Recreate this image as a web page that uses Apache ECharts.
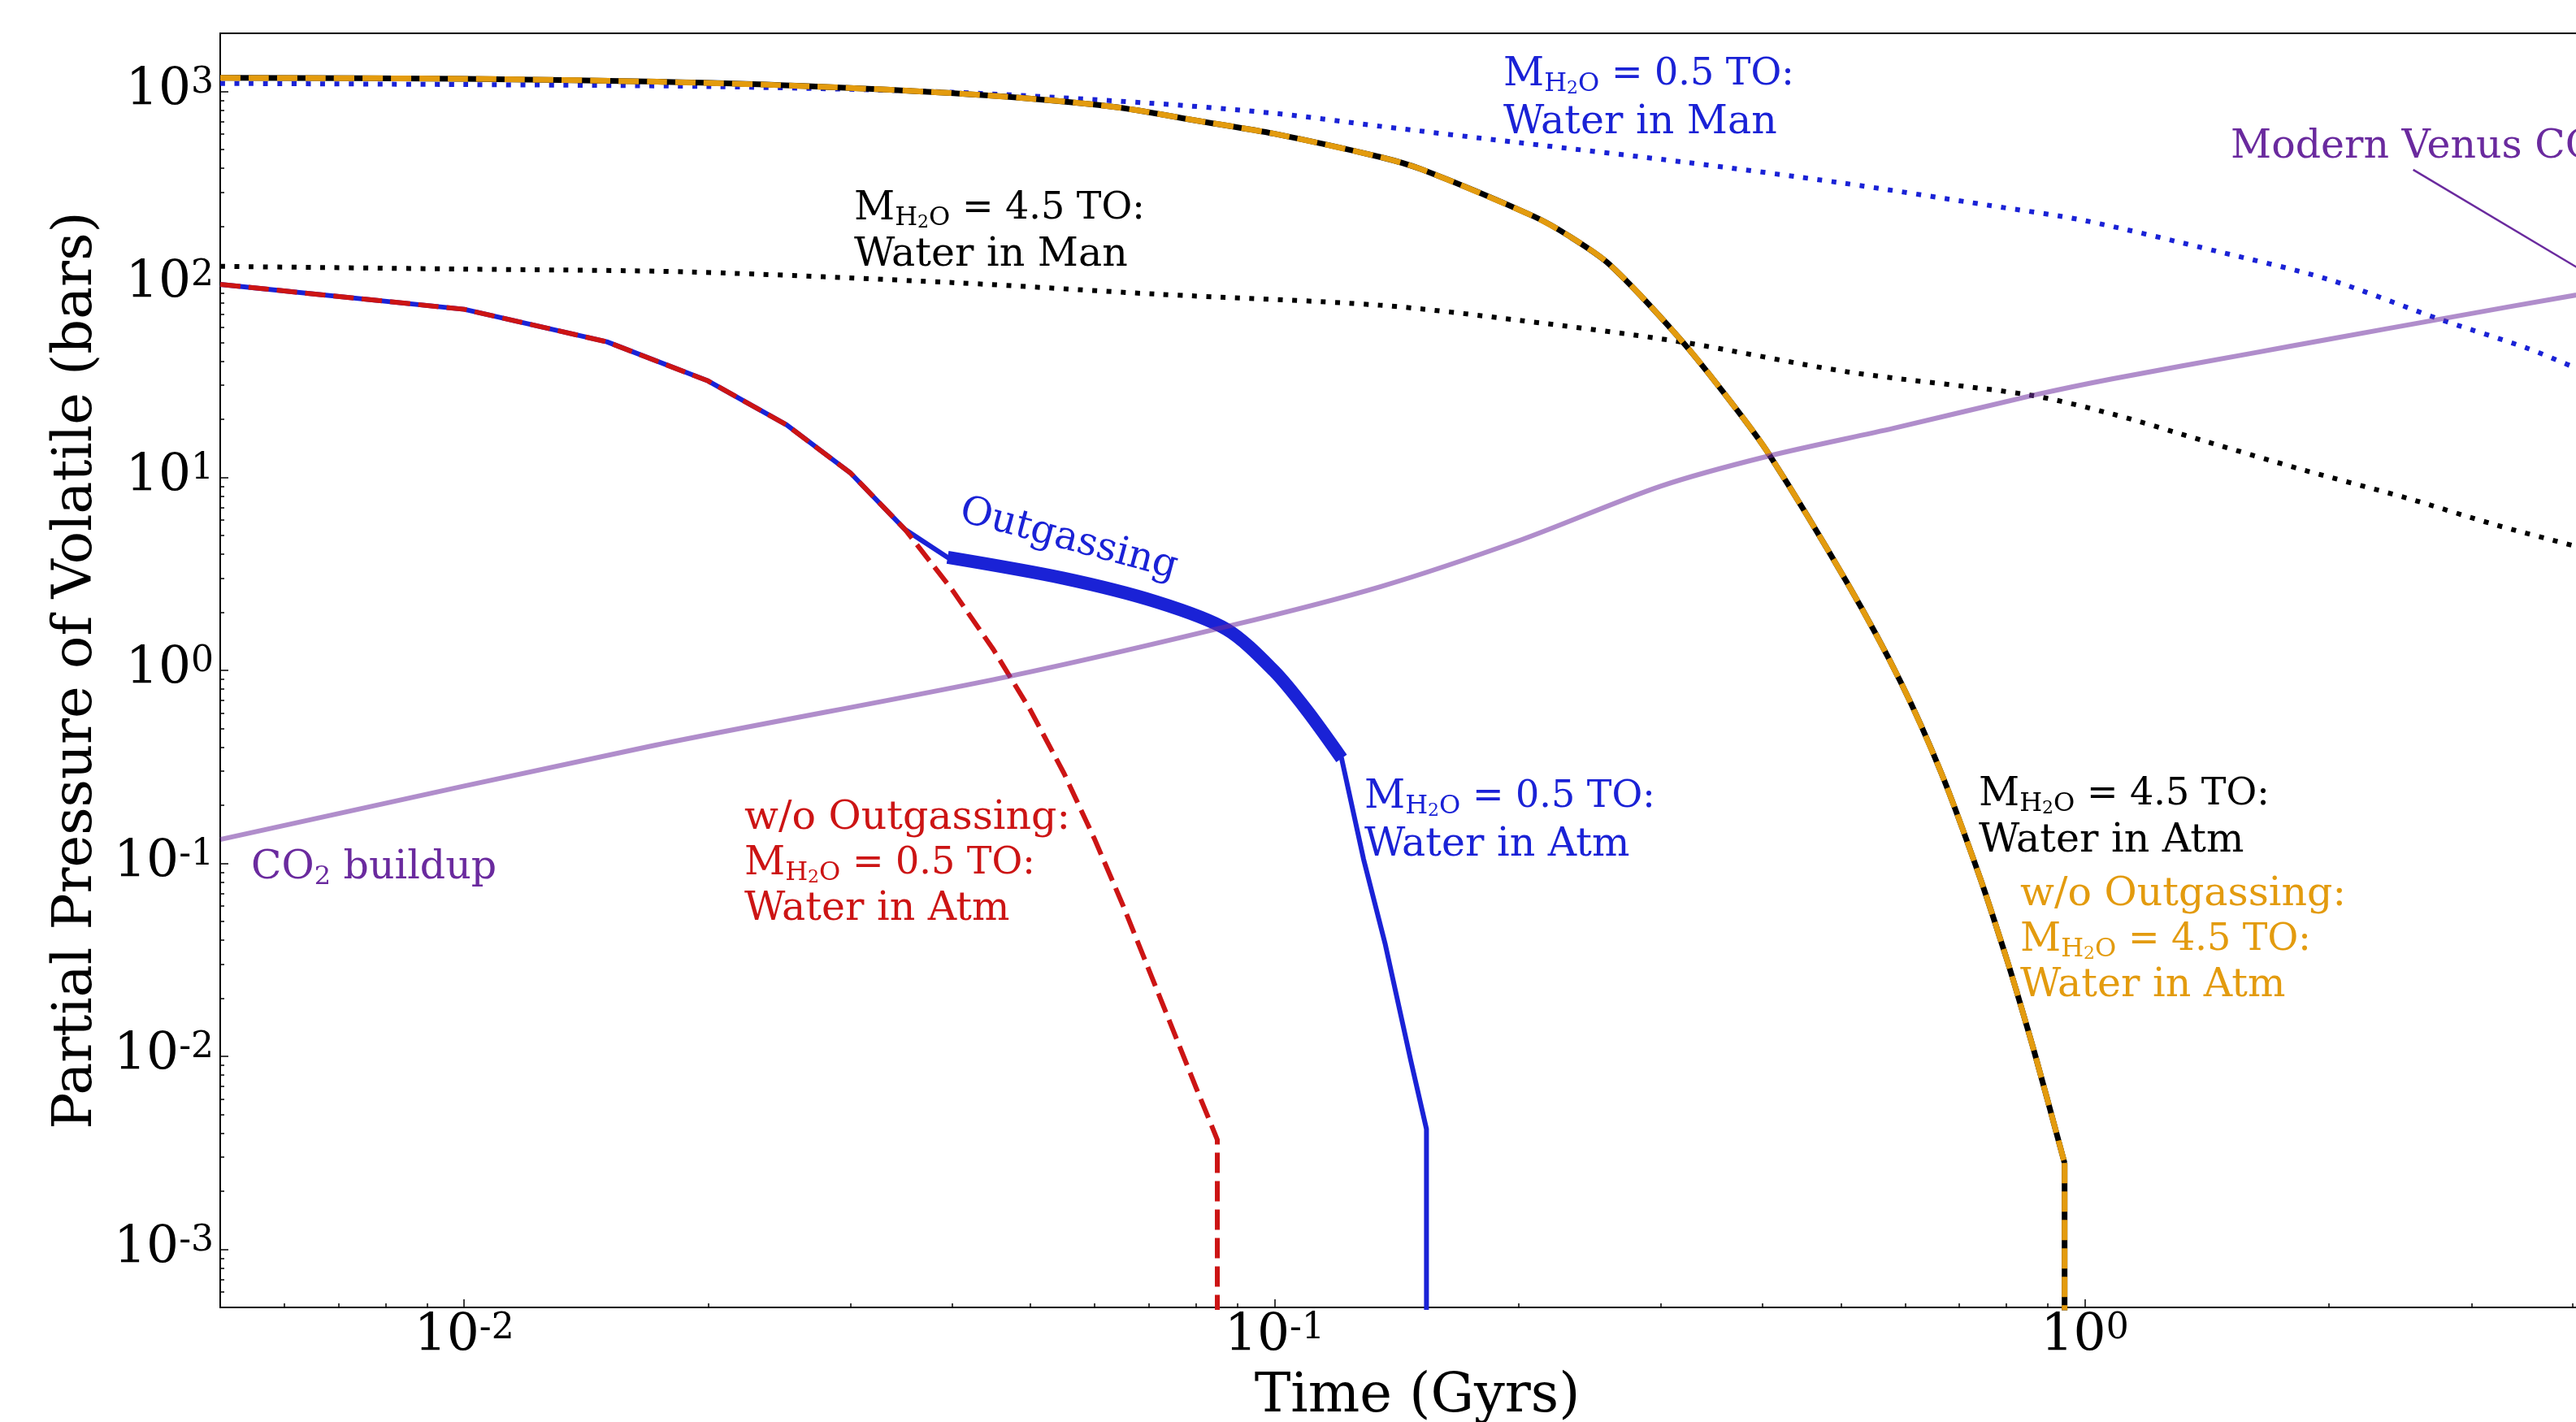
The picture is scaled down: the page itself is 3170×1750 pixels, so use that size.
<!DOCTYPE html>
<html>
<head>
<meta charset="utf-8">
<script src="https://cdn.jsdelivr.net/npm/echarts/dist/echarts.min.js"></script>
<style>
html,body{margin:0;padding:0;background:#fff;}
#chart{width:3170px;height:1750px;}
</style>
</head>
<body>
<div id="chart"></div>
<script>
// ---------------- data (time in Gyr, pressure in bar) ----------------
const X_MAJOR = [0.01, 0.1, 1];
const X_MINOR = [0.006,0.007,0.008,0.009,0.02,0.03,0.04,0.05,0.06,0.07,0.08,0.09,0.2,0.3,0.4,0.5,0.6,0.7,0.8,0.9,2,3,4];
const Y_MAJOR = [0.001, 0.01, 0.1, 1, 10, 100, 1000];
const Y_MINOR = [0.0006,0.0007,0.0008,0.0009,0.002,0.003,0.004,0.005,0.006,0.007,0.008,0.009,
                 0.02,0.03,0.04,0.05,0.06,0.07,0.08,0.09,0.2,0.3,0.4,0.5,0.6,0.7,0.8,0.9,
                 2,3,4,5,6,7,8,9,20,30,40,50,60,70,80,90,200,300,400,500,600,700,800,900];

// M_H2O = 0.5 TO : water in mantle (blue dotted)
const man05 = [[0.005,1100],[0.01,1085],[0.02,1060],[0.04,990],[0.07,870],[0.1,770],[0.135,660],
               [0.2,543],[0.322,429],[0.5,336],[0.765,256],[1.0,214],[1.46,148],[2.0,106],
               [2.74,66],[3.5,47],[4.03,37],[4.5,31]];
// M_H2O = 4.5 TO : water in mantle (black dotted)
const man45 = [[0.005,124],[0.01,120],[0.019,116],[0.0404,102],[0.0716,89],[0.135,78],[0.2014,65],
               [0.316,50.5],[0.51,35.2],[0.855,26.7],[1.081,21.3],[1.4,15.5],[1.85,11],[2.5,7.8],
               [3.2,5.7],[4.03,4.4],[4.5,3.9]];
// M_H2O = 4.5 TO : water in atmosphere (with and without outgassing coincide)
const atm45 = [[0.005,1175],[0.01,1163],[0.0173,1122],[0.0275,1058],[0.044,955],[0.063,834],
               [0.0816,697],[0.1,603],[0.135,457],[0.152,394],[0.2085,226],[0.23,180],[0.259,127],
               [0.316,52.6],[0.366,24.5],[0.407,13.3],[0.51,2.8],[0.592,0.877],[0.665,0.294],
               [0.743,0.0834],[0.8,0.0324],[0.824,0.0216],[0.867,0.0104],[0.944,0.0028]];
const atm45Drop = [[0.944,0.0028],[0.944,0.0001]];
// M_H2O = 0.5 TO : water in atmosphere
const atm05Early = [[0.005,100],[0.01,74.3],[0.015,50.4],[0.02,31.6],[0.025,18.7],[0.03,10.5],[0.035,5.37]];
const outgas05   = [[0.0395,3.85],[0.0549,3.0],[0.0716,2.26],[0.0873,1.63],[0.0998,0.996],[0.1094,0.628],[0.121,0.35]];
const atm05Late  = [[0.1288,0.105],[0.137,0.038],[0.1473,0.0095],[0.154,0.0042],[0.154,0.0001]];
// w/o outgassing, M_H2O = 0.5 TO
const noOut05 = [[0.04,2.62],[0.045,1.28],[0.05,0.62],[0.055,0.292],[0.06,0.133],[0.065,0.0607],
                 [0.07,0.028],[0.075,0.0136],[0.08,0.0069],[0.085,0.0037],[0.085,0.0001]];
// CO2 buildup
const co2 = [[0.005,0.133],[0.0169,0.403],[0.0468,0.927],[0.0885,1.71],[0.1353,2.72],[0.2014,4.74],
             [0.2995,9.0],[0.407,12.9],[0.5816,18.0],[0.866,26.7],[1.081,32.4],[1.6,43.8],[2.0,52],
             [2.74,66],[4.03,88],[4.5,94]];
// pointer from "Modern Venus CO2" label to modern value
const venusPointer = [[2.542,393],[4.5,94]];

// ---------------- styles ----------------
const F = 'DejaVu Serif';
const BLUE = '#1a22d6', RED = '#cc1414', ORANGE = '#e39b0e', BLACK = '#000000';
const PURPLE_TXT = '#6a2a9e', PURPLE_LINE = 'rgba(112,48,160,0.55)';
const DOT = [6, 11.6], DASH = [25, 10];

function line(data, color, width, dash, smooth) {
  return {
    type: 'line', data: data, symbol: 'none', silent: true, clip: true, animation: false,
    xAxisIndex: 0, yAxisIndex: 0, smooth: smooth || false,
    lineStyle: { color: color, width: width, type: dash || 'solid', cap: 'butt', join: 'round' }
  };
}
function powLabel(v) {
  const e = Math.round(Math.log10(v));
  return '{b|10}{s|' + e + '}';
}
const tickRich = {
  b: { fontFamily: F, fontSize: 63, lineHeight: 64, color: '#000' },
  s: { fontFamily: F, fontSize: 44, lineHeight: 29, verticalAlign: 'top', color: '#000' }
};
function annRich(color) {
  return {
    n:  { fontFamily: F, fontSize: 49, lineHeight: 56, fill: color },
    e:  { fontFamily: F, fontSize: 46, lineHeight: 56, fill: color },
    s1: { fontFamily: F, fontSize: 32, lineHeight: 30, verticalAlign: 'bottom', fill: color },
    s2: { fontFamily: F, fontSize: 22, lineHeight: 14, verticalAlign: 'bottom', fill: color }
  };
}
function mh2o(v) { return '{n|M}{s1|H}{s2|2}{s1|O}{e| = ' + v + ' TO:}'; }

const annotations = [
  { x: 1850, y: 92,  t: mh2o('0.5'), c: BLUE },
  { x: 1850, y: 151, t: '{n|Water in Man}', c: BLUE },
  { x: 1051, y: 257, t: mh2o('4.5'), c: BLACK },
  { x: 1051, y: 314, t: '{n|Water in Man}', c: BLACK },
  { x: 2745, y: 181, t: '{n|Modern Venus CO}{s1|2}', c: PURPLE_TXT },
  { x: 916,  y: 1007, t: '{n|w/o Outgassing:}', c: RED },
  { x: 916,  y: 1063, t: mh2o('0.5'), c: RED },
  { x: 916,  y: 1119, t: '{n|Water in Atm}', c: RED },
  { x: 309,  y: 1068, t: '{n|CO}{s1|2}{n| buildup}', c: PURPLE_TXT },
  { x: 1679, y: 981,  t: mh2o('0.5'), c: BLUE },
  { x: 1679, y: 1040, t: '{n|Water in Atm}', c: BLUE },
  { x: 2435, y: 978,  t: mh2o('4.5'), c: BLACK },
  { x: 2435, y: 1035, t: '{n|Water in Atm}', c: BLACK },
  { x: 2486, y: 1101, t: '{n|w/o Outgassing:}', c: ORANGE },
  { x: 2486, y: 1157, t: mh2o('4.5'), c: ORANGE },
  { x: 2486, y: 1213, t: '{n|Water in Atm}', c: ORANGE }
];
const graphics = annotations.map(a => ({
  type: 'text', x: a.x, y: a.y, z: 100, silent: true,
  style: { text: a.t, rich: annRich(a.c), fill: a.c, fontFamily: F, fontSize: 49,
           align: 'left', verticalAlign: 'middle' }
}));
graphics.push({
  type: 'text', x: 1315, y: 664, rotation: -15 * Math.PI / 180, z: 100, silent: true,
  style: { text: 'Outgassing', fill: BLUE, fontFamily: F, fontSize: 48, align: 'center', verticalAlign: 'middle' }
});

const axisLineStyle = { color: '#000', width: 2 };
const tickLine = { color: '#000', width: 1.5 };

const option = {
  animation: false,
  backgroundColor: '#ffffff',
  grid: { left: 271, right: -47, top: 41, bottom: 141, show: true, borderColor: '#000', borderWidth: 2,
          containLabel: false, outerBoundsMode: 'none' },
  xAxis: [
    { type: 'log', logBase: 10, min: 0.005, max: 4.5, position: 'bottom',
      axisLine: { show: true, lineStyle: axisLineStyle },
      axisTick: { show: true, inside: true, length: 10, lineStyle: tickLine, customValues: X_MAJOR },
      axisLabel: { show: true, customValues: X_MAJOR, formatter: powLabel, rich: tickRich, margin: 5 },
      splitLine: { show: false }, minorTick: { show: false },
      name: 'Time (Gyrs)', nameLocation: 'middle', nameGap: 77,
      nameTextStyle: { fontFamily: F, fontSize: 67, color: '#000' } },
    { type: 'log', logBase: 10, min: 0.005, max: 4.5, position: 'bottom',
      axisLine: { show: false }, axisLabel: { show: false }, splitLine: { show: false },
      axisTick: { show: true, inside: true, length: 5, lineStyle: tickLine, customValues: X_MINOR } }
  ],
  yAxis: [
    { type: 'log', logBase: 10, min: 0.0005, max: 2000, position: 'left',
      axisLine: { show: true, lineStyle: axisLineStyle },
      axisTick: { show: true, inside: true, length: 10, lineStyle: tickLine, customValues: Y_MAJOR },
      axisLabel: { show: true, customValues: Y_MAJOR, formatter: powLabel, rich: tickRich, margin: 8 },
      splitLine: { show: false }, minorTick: { show: false },
      name: 'Partial Pressure of Volatile (bars)', nameLocation: 'middle', nameGap: 143,
      nameTextStyle: { fontFamily: F, fontSize: 67, color: '#000' } },
    { type: 'log', logBase: 10, min: 0.0005, max: 2000, position: 'left',
      axisLine: { show: false }, axisLabel: { show: false }, splitLine: { show: false },
      axisTick: { show: true, inside: true, length: 5, lineStyle: tickLine, customValues: Y_MINOR } }
  ],
  series: [
    line(man05, BLUE, 6, DOT, 0.3),
    line(man45, BLACK, 6, DOT, 0.3),
    line(atm45, BLACK, 7, null, 0.3),
    line(atm45Drop, BLACK, 7),
    line(atm45, ORANGE, 7, DASH, 0.3),
    line(atm45Drop, ORANGE, 7, DASH),
    line(atm05Early.concat(outgas05, atm05Late), BLUE, 6),
    line(outgas05, BLUE, 16, null, 0.3),
    line(atm05Early.concat(noOut05), RED, 6, DASH),
    line(co2, PURPLE_LINE, 6, null, 0.3),
    line(venusPointer, PURPLE_TXT, 2.5)
  ],
  graphic: graphics
};
const chart = echarts.init(document.getElementById('chart'));
chart.setOption(option);
</script>
</body>
</html>
